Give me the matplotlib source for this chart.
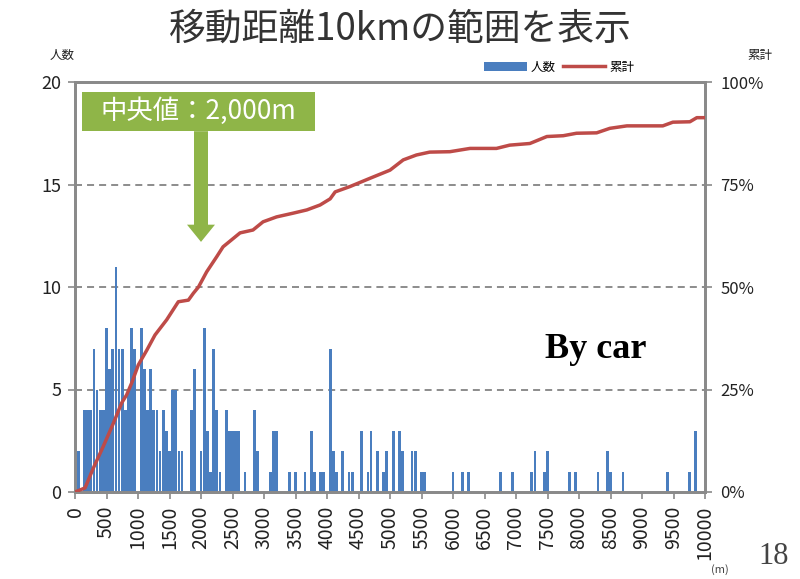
import matplotlib
matplotlib.use("Agg")
import matplotlib.pyplot as plt
from matplotlib.patches import Rectangle, FancyArrow
from matplotlib.ticker import FuncFormatter
from matplotlib.lines import Line2D
from matplotlib.patches import Patch

plt.rcParams['font.family'] = ['Noto Sans CJK JP', 'DejaVu Sans']

title = "移動距離10kmの範囲を表示"
series_names = ["人数", "累計"]

# 50 m distance bins (m) and number of people in each (empty bins omitted)
bar_dist = [50, 150, 200, 250, 300, 350, 400, 450, 500, 550, 600, 650, 700, 750,
            800, 850, 900, 950, 1050, 1100, 1150, 1200, 1250, 1300, 1350, 1400,
            1450, 1500, 1550, 1600, 1650, 1700, 1850, 1900, 2000, 2050, 2100,
            2150, 2200, 2250, 2300, 2400, 2450, 2500, 2550, 2600, 2700, 2850,
            2900, 3100, 3150, 3200, 3400, 3500, 3650, 3750, 3800, 3900, 3950,
            4050, 4100, 4150, 4250, 4350, 4400, 4550, 4650, 4700, 4800, 4900,
            4950, 5050, 5150, 5200, 5350, 5400, 5500, 5550, 6000, 6150, 6250,
            6750, 6950, 7250, 7300, 7450, 7500, 7850, 7950, 8300, 8450, 8500,
            8700, 9400, 9750, 9850]
bar_count = [2, 4, 4, 4, 7, 5, 4, 4, 8, 6, 7, 11, 7, 7,
             4, 5, 8, 7, 8, 6, 4, 6, 4, 4, 2, 4,
             3, 2, 5, 5, 2, 2, 4, 6, 2, 8, 3,
             1, 7, 4, 1, 4, 3, 3, 3, 3, 1, 4,
             2, 1, 3, 3, 1, 1, 1, 3, 1, 1, 1,
             7, 2, 1, 2, 1, 1, 3, 1, 3, 2, 1,
             2, 3, 3, 2, 2, 2, 1, 1, 1, 1, 1,
             1, 1, 1, 2, 1, 2, 1, 1, 1, 2, 1,
             1, 1, 1, 3]

# cumulative share of people (%) by distance (m)
cum_dist = [0, 160, 290, 445, 610, 740, 820, 900, 1005, 1140, 1270, 1455, 1640,
            1800, 1880, 1960, 2090, 2250, 2350, 2620, 2825, 2985, 3200, 3460,
            3680, 3890, 4050, 4130, 4365, 4680, 5000, 5210, 5420, 5630, 5950,
            6270, 6690, 6900, 7220, 7490, 7750, 7960, 8280, 8490, 8760, 9330,
            9490, 9760, 9870, 10000]
cum_pct = [0, 1, 5.8, 11, 16.8, 21.7, 23.7, 26.6, 31, 34.6, 38.3, 42, 46.4,
           46.8, 48.5, 50, 53.7, 57.4, 59.8, 63.2, 63.9, 65.9, 67.1, 68,
           68.8, 70, 71.5, 73.2, 74.5, 76.5, 78.5, 81, 82.2, 82.9, 83,
           83.8, 83.8, 84.6, 85, 86.7, 86.9, 87.5, 87.6, 88.7, 89.3, 89.3,
           90.2, 90.3, 91.3, 91.3]

x_ticks = list(range(0, 10001, 500))
left_ticks = [0, 5, 10, 15, 20]
right_ticks = [0, 25, 50, 75, 100]
median_m = 2000
median_label = "中央値：2,000m"

BLUE = '#4a7ebf'
RED = '#be4b48'
GREEN = '#8fb548'
SPINE = '#8a8a8a'
TXT = '#222222'

fig = plt.figure(figsize=(8, 5.79), dpi=100)
ax = fig.add_axes([75 / 800, 1 - 492 / 579, 630 / 800, 410 / 579])

ax.bar(bar_dist, bar_count, width=44, color=BLUE, zorder=2, linewidth=0)
for v in left_ticks[1:-1]:
    ax.axhline(v, color='#8c8c8c', lw=1.4, ls=(0, (3.6, 2.6)), zorder=1)

ax.set_xlim(0, 10000)
ax.set_ylim(0, 20)
ax.set_xticks(x_ticks)
ax.set_xticklabels([str(t) for t in x_ticks], rotation=90, fontsize=14, color=TXT)
ax.set_yticks(left_ticks)
ax.set_yticklabels([str(t) for t in left_ticks], fontsize=13, color=TXT)
ax.tick_params(axis='both', direction='out', length=5, width=1.2, color=SPINE, pad=5)

ax2 = ax.twinx()
ax2.set_ylim(0, 100)
ax2.plot(cum_dist, cum_pct, color=RED, lw=2.5, zorder=3, solid_joinstyle='round')
ax2.set_yticks(right_ticks)
ax2.yaxis.set_major_formatter(FuncFormatter(lambda v, p: f"{int(v)}%"))
ax2.tick_params(axis='y', direction='out', length=5, width=1.2, color=SPINE,
                labelsize=12, labelcolor=TXT, pad=6)

for a in (ax, ax2):
    for s in a.spines.values():
        s.set_color(SPINE)
        s.set_linewidth(2)

# median callout: box with label and arrow pointing at the median distance
ax2.add_patch(Rectangle((111, 88.0), 3700, 9.6, facecolor=GREEN, edgecolor='none',
                        zorder=5))
ax2.text(1960, 92.8, median_label, color='white', fontsize=19, ha='center',
         va='center', zorder=6)
ax2.add_patch(FancyArrow(median_m, 88.0, 0, -27.0, width=222, head_width=444,
                         head_length=4.2, length_includes_head=True,
                         facecolor=GREEN, edgecolor='none', zorder=5))

# legend above the plot, right-aligned
handles = [Patch(facecolor=BLUE, edgecolor='none'),
           Line2D([0], [0], color=RED, lw=2.5)]
fig.legend(handles, series_names, loc='center right',
           bbox_to_anchor=(634 / 800, 1 - 67 / 579), ncol=2, frameon=False,
           fontsize=9, handlelength=3.4, handletextpad=0.3, columnspacing=0.6,
           borderaxespad=0, borderpad=0)

fig.text(0.5, 1 - 29 / 579, title, fontsize=26.5, ha='center', va='center', color='#333333')
fig.text(62 / 800, 1 - 55 / 579, "人数", fontsize=9, ha='center', va='center', color=TXT)
fig.text(760 / 800, 1 - 55 / 579, "累計", fontsize=9, ha='center', va='center', color=TXT)
fig.text(596 / 800, 1 - 350 / 579, "By car", family='Liberation Serif',
         fontweight='bold', fontsize=26, ha='center', va='center', color='black')
fig.text(720 / 800, 1 - 570 / 579, "(m)", fontsize=8, ha='center', va='center', color='#444444')
fig.text(774 / 800, 1 - 556 / 579, "18", family='Liberation Serif', fontsize=22,
         ha='center', va='center', color='#444444')

fig.savefig("out.png", dpi=100)
